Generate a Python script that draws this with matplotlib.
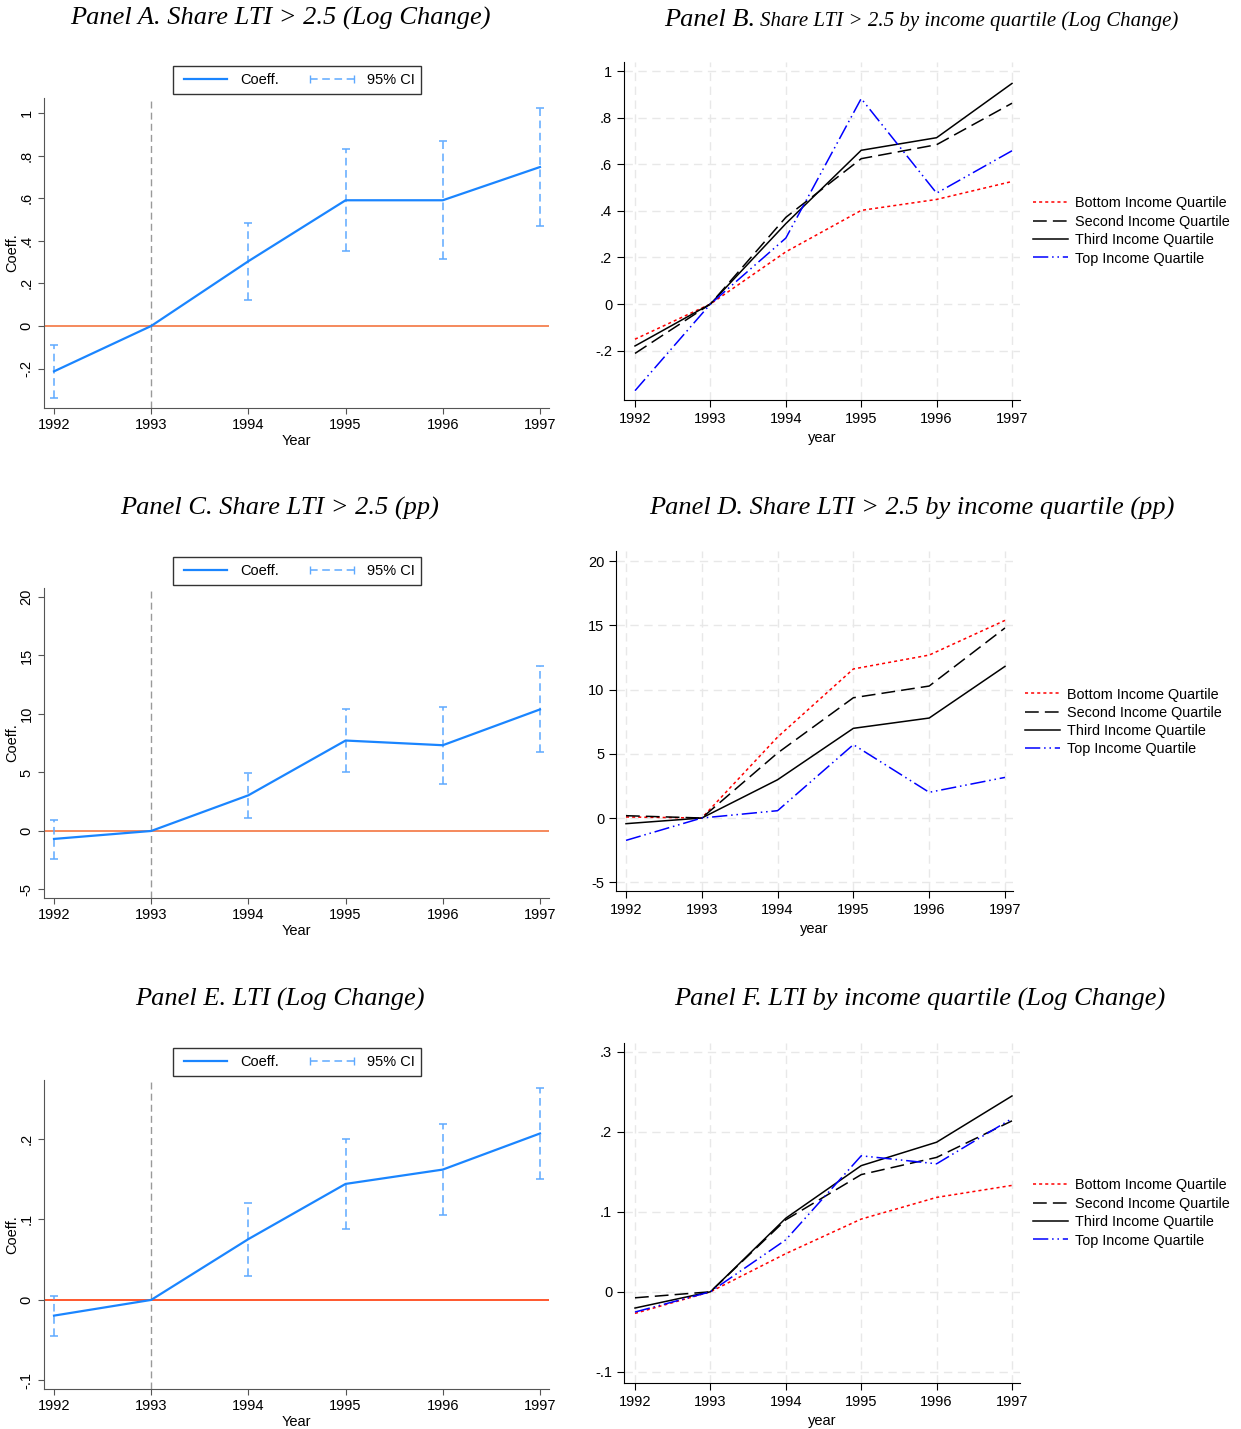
import numpy as np
import matplotlib
matplotlib.use("Agg")
import matplotlib.pyplot as plt
from matplotlib.lines import Line2D
from matplotlib.ticker import FuncFormatter

# ---- data ----
years = [1992, 1993, 1994, 1995, 1996, 1997]
ci_years = [1992, 1994, 1995, 1996, 1997]

# Panel A: share LTI > 2.5, log change
coef_a = [-0.213, 0.0, 0.304, 0.590, 0.590, 0.746]
lo_a = [-0.338, 0.120, 0.350, 0.315, 0.470]
hi_a = [-0.090, 0.484, 0.832, 0.868, 1.023]

# Panel C: share LTI > 2.5, pp
coef_c = [-0.68, 0.0, 3.05, 7.73, 7.33, 10.39]
lo_c = [-2.37, 1.14, 5.08, 4.05, 6.79]
hi_c = [0.94, 4.99, 10.39, 10.56, 14.07]

# Panel E: LTI, log change
coef_e = [-0.0195, 0.0, 0.0755, 0.144, 0.1618, 0.2066]
lo_e = [-0.0448, 0.0303, 0.0884, 0.1058, 0.1506]
hi_e = [0.0054, 0.1207, 0.1996, 0.2178, 0.263]

quartiles = ["Bottom Income Quartile", "Second Income Quartile",
             "Third Income Quartile", "Top Income Quartile"]

# Panel B: by quartile, log change
b_bottom = [-0.151, 0.0, 0.224, 0.402, 0.449, 0.526]
b_second = [-0.212, 0.0, 0.372, 0.624, 0.684, 0.862]
b_third = [-0.180, 0.0, 0.345, 0.660, 0.714, 0.947]
b_top = [-0.372, 0.0, 0.283, 0.882, 0.476, 0.658]

# Panel D: by quartile, pp
d_bottom = [0.08, 0.0, 6.30, 11.60, 12.68, 15.38]
d_second = [0.18, 0.0, 5.06, 9.36, 10.27, 14.79]
d_third = [-0.44, 0.0, 2.98, 6.98, 7.78, 11.80]
d_top = [-1.74, 0.0, 0.57, 5.71, 2.00, 3.16]

# Panel F: LTI by quartile, log change
f_bottom = [-0.027, 0.0, 0.0477, 0.0909, 0.118, 0.133]
f_second = [-0.0075, 0.0, 0.090, 0.1465, 0.168, 0.2137]
f_third = [-0.0203, 0.0, 0.092, 0.1577, 0.187, 0.2448]
f_top = [-0.0253, 0.0, 0.065, 0.170, 0.160, 0.2166]

W, H = 1241, 1429
plt.rcParams['font.family'] = ['Liberation Sans', 'DejaVu Sans']

fig = plt.figure(figsize=(W / 100, H / 100), dpi=100)


def px_box(l, t, r, b):
    return [l / W, 1 - b / H, (r - l) / W, (b - t) / H]


def stata_fmt(v, pos):
    s = "%g" % round(v, 4)
    if s.startswith("0."):
        s = s[1:]
    elif s.startswith("-0."):
        s = "-" + s[2:]
    return s


fmt = FuncFormatter(stata_fmt)
BLUE = '#1a85ff'
CI_BLUE = '#5ea9ff'
title_kw = dict(family=['Liberation Serif', 'DejaVu Serif'], style='italic', fontsize=19)


def coef_panel(box, coef, lo, hi, ylim, yticks, zero_col, title, title_y, leg_y):
    ax = fig.add_axes(px_box(*box))
    ax.axvline(1993, color='#999999', lw=1, ls=(0, (5, 3)), zorder=1)
    ax.axhline(0, color=zero_col, lw=1.3, zorder=1)
    ax.vlines(ci_years, lo, hi, colors=CI_BLUE, linestyles=(0, (5, 3)), lw=1.1, zorder=2)
    ax.scatter(ci_years + ci_years, lo + hi, marker='_', s=30, color=CI_BLUE, lw=1.1, zorder=2)
    ax.plot(years, coef, color=BLUE, lw=1.6, zorder=3)
    ax.set_xlim(1991.897, 1997.093)
    ax.set_ylim(*ylim)
    ax.set_xticks(years)
    ax.set_yticks(yticks)
    ax.yaxis.set_major_formatter(fmt)
    for lab in ax.get_yticklabels():
        lab.set_rotation(90)
        lab.set_va('center')
    ax.tick_params(labelsize=10.5, color='#555555', length=4)
    for s in ['top', 'right']:
        ax.spines[s].set_visible(False)
    for s in ['left', 'bottom']:
        ax.spines[s].set_color('#555555')
    ax.set_xlabel('Year', fontsize=10.5, labelpad=1)
    ax.set_ylabel('Coeff.', fontsize=10.5, labelpad=0)
    handles = [Line2D([], [], color=BLUE, lw=1.6),
               Line2D([], [], color=CI_BLUE, lw=1.1, ls=(0, (5, 3)), marker='|', ms=6)]
    fig.legend(handles, ['Coeff.', '95% CI'], loc='center', ncol=2,
               bbox_to_anchor=(297 / W, 1 - leg_y / H), frameon=True, fancybox=False,
               edgecolor='black', fontsize=10.5, numpoints=2, handlelength=3.6,
               columnspacing=1.8, borderpad=0.45, borderaxespad=0,
               handletextpad=0.6).get_frame().set_linewidth(1.0)
    fig.text(280 / W, 1 - title_y / H, title, ha='center', va='center', **title_kw)
    return ax


def quart_panel(box, xl, series, ylim, yticks, leg_xy):
    ax = fig.add_axes(px_box(*box))
    styles = [dict(color='red', ls=(0, (2, 2)), lw=1.1),
              dict(color='black', ls=(0, (9, 4)), lw=1.1),
              dict(color='black', ls='-', lw=1.1),
              dict(color='blue', ls=(0, (10, 2.5, 1, 2.5, 1, 2.5)), lw=1.1)]
    for vals, st, name in zip(series, styles, quartiles):
        ax.plot(years, vals, label=name, **st)
    ax.set_xlim(*xl)
    ax.set_ylim(*ylim)
    ax.set_xticks(years)
    ax.set_yticks(yticks)
    ax.yaxis.set_major_formatter(fmt)
    ax.grid(True, color='#e8e8e8', ls=(0, (6, 4)), lw=1)
    ax.set_axisbelow(True)
    for s in ['top', 'right']:
        ax.spines[s].set_visible(False)
    ax.tick_params(labelsize=10.5, length=5)
    ax.set_xlabel('year', fontsize=10.5, labelpad=4)
    fig.legend(*ax.get_legend_handles_labels(), loc='center left',
               bbox_to_anchor=(leg_xy[0] / W, 1 - leg_xy[1] / H), frameon=False,
               fontsize=10.4, handlelength=2.4, labelspacing=0.3, handletextpad=0.5,
               borderpad=0, borderaxespad=0)
    return ax


coef_panel((44, 98, 549, 408), coef_a, lo_a, hi_a, (-0.385, 1.070),
           [-0.2, 0, 0.2, 0.4, 0.6, 0.8, 1], '#f4804f',
           'Panel A. Share LTI > 2.5 (Log Change)', 18, 80)
coef_panel((44, 588, 549, 898), coef_c, lo_c, hi_c, (-5.73, 20.77),
           [-5, 0, 5, 10, 15, 20], '#f4804f',
           'Panel C. Share LTI > 2.5 (pp)', 508, 571)
coef_panel((44, 1080, 549, 1389), coef_e, lo_e, hi_e, (-0.1106, 0.273),
           [-0.1, 0, 0.1, 0.2], '#ff4a1c',
           'Panel E. LTI (Log Change)', 999, 1062)

quart_panel((624, 62, 1020, 400), (1991.854, 1997.106),
            [b_bottom, b_second, b_third, b_top], (-0.412, 1.039),
            [-0.2, 0, 0.2, 0.4, 0.6, 0.8, 1], (1033, 231))
quart_panel((616, 551, 1013, 891), (1991.868, 1997.106),
            [d_bottom, d_second, d_third, d_top], (-5.68, 20.78),
            [-5, 0, 5, 10, 15, 20], (1025, 722))
quart_panel((624, 1043, 1020, 1383), (1991.854, 1997.106),
            [f_bottom, f_second, f_third, f_top], (-0.114, 0.311),
            [-0.1, 0, 0.1, 0.2, 0.3], (1033, 1213))

# titles of the right column
fig.text(664 / W, 1 - 20 / H, 'Panel B.', ha='left', va='center', **title_kw)
fig.text(760 / W, 1 - 21 / H, 'Share LTI > 2.5 by income quartile (Log Change)',
         ha='left', va='center', family=['Liberation Serif', 'DejaVu Serif'],
         style='italic', fontsize=15)
fig.text(912 / W, 1 - 508 / H, 'Panel D. Share LTI > 2.5 by income quartile (pp)',
         ha='center', va='center', **title_kw)
fig.text(920 / W, 1 - 999 / H, 'Panel F. LTI by income quartile (Log Change)',
         ha='center', va='center', **title_kw)

fig.savefig('out.png', dpi=100, facecolor='white')
